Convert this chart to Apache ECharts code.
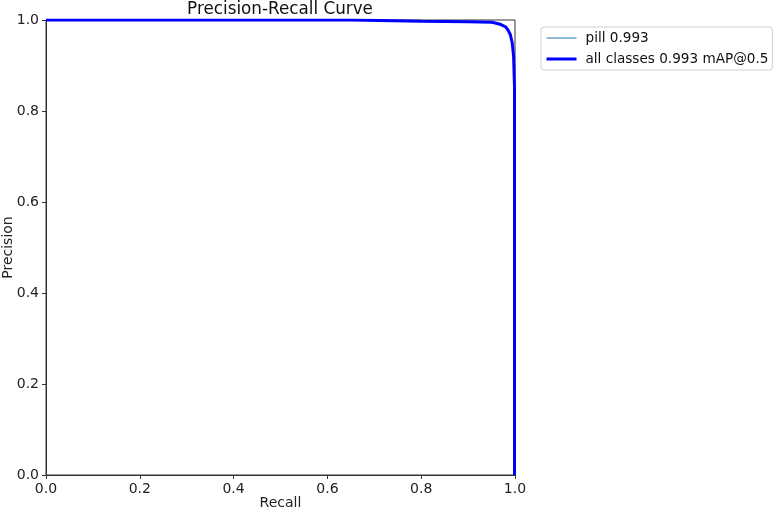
<!DOCTYPE html>
<html>
<head>
<meta charset="utf-8">
<script src="https://cdn.jsdelivr.net/npm/echarts@6/dist/echarts.min.js"></script>
<style>html,body{margin:0;padding:0;background:#fff}#c{width:779px;height:513px}</style>
</head>
<body>
<div id="c"></div>
<script>
const recall = [0, 0.65, 0.65, 0.8, 0.9, 0.95, 0.96, 0.97, 0.98, 0.985, 0.99, 0.994, 0.997, 0.999, 0.999, 1.0];
const precisionPill = [1.0, 1.0, 0.998, 0.997, 0.996, 0.995, 0.993, 0.99, 0.985, 0.978, 0.968, 0.95, 0.92, 0.85, 0.0, 0.0];
const precisionAll = [1.0, 1.0, 0.998, 0.997, 0.996, 0.995, 0.993, 0.99, 0.985, 0.978, 0.968, 0.95, 0.92, 0.85, 0.0, 0.0];
const seriesNames = ['pill 0.993', 'all classes 0.993 mAP@0.5'];
const tickValues = [0, 0.2, 0.4, 0.6, 0.8, 1.0];

const font = 'DejaVu Sans';
const chart = echarts.init(document.getElementById('c'), null, {renderer: 'canvas'});
const axisCommon = {
  type: 'value', min: 0, max: 1, interval: 0.2,
  nameLocation: 'middle',
  nameMoveOverlap: false,
  nameTextStyle: {fontFamily: font, fontSize: 14, color: '#222'},
  axisLine: {show: true, lineStyle: {color: '#333', width: 1}},
  axisTick: {show: true, inside: false, length: 4, lineStyle: {color: '#333', width: 1}},
  axisLabel: {fontFamily: font, fontSize: 14, color: '#222', margin: 7,
    formatter: v => v.toFixed(1)},
  splitLine: {show: false}
};
chart.setOption({
  animation: false,
  backgroundColor: '#fff',
  title: {text: 'Precision-Recall Curve', left: 280, textAlign: 'center', top: 1, padding: 0,
    textStyle: {fontFamily: font, fontSize: 16.8, fontWeight: 'normal', color: '#111'}},
  grid: {left: 46, top: 20, width: 469, height: 455, containLabel: false, outerBoundsMode: 'none',
    show: true, borderColor: '#333', borderWidth: 1, backgroundColor: 'transparent'},
  xAxis: Object.assign({}, axisCommon, {name: 'Recall', nameGap: 21}),
  yAxis: Object.assign({}, axisCommon, {name: 'Precision', nameGap: 31}),
  legend: {
    orient: 'vertical', left: 541, top: 27,
    padding: [4, 4, 4, 4], itemGap: 7, itemWidth: 30, itemHeight: 14,
    borderColor: '#d0d0d0', borderWidth: 1, borderRadius: 3,
    itemStyle: {opacity: 0},
    textStyle: {fontFamily: font, fontSize: 13.6, color: '#111', padding: [0, 0, 0, 4]},
    data: [
      {name: seriesNames[0], lineStyle: {width: 1, color: '#1f77b4'}},
      {name: seriesNames[1], lineStyle: {width: 3, color: '#0000ff'}}
    ]
  },
  series: [
    {name: seriesNames[0], type: 'line', symbol: 'none', color: '#1f77b4',
     lineStyle: {width: 1, color: '#1f77b4'},
     data: recall.map((r, i) => [r, precisionPill[i]])},
    {name: seriesNames[1], type: 'line', symbol: 'none', color: '#0000ff',
     lineStyle: {width: 3, color: '#0000ff'},
     data: recall.map((r, i) => [r, precisionAll[i]])}
  ]
});
</script>
</body>
</html>
